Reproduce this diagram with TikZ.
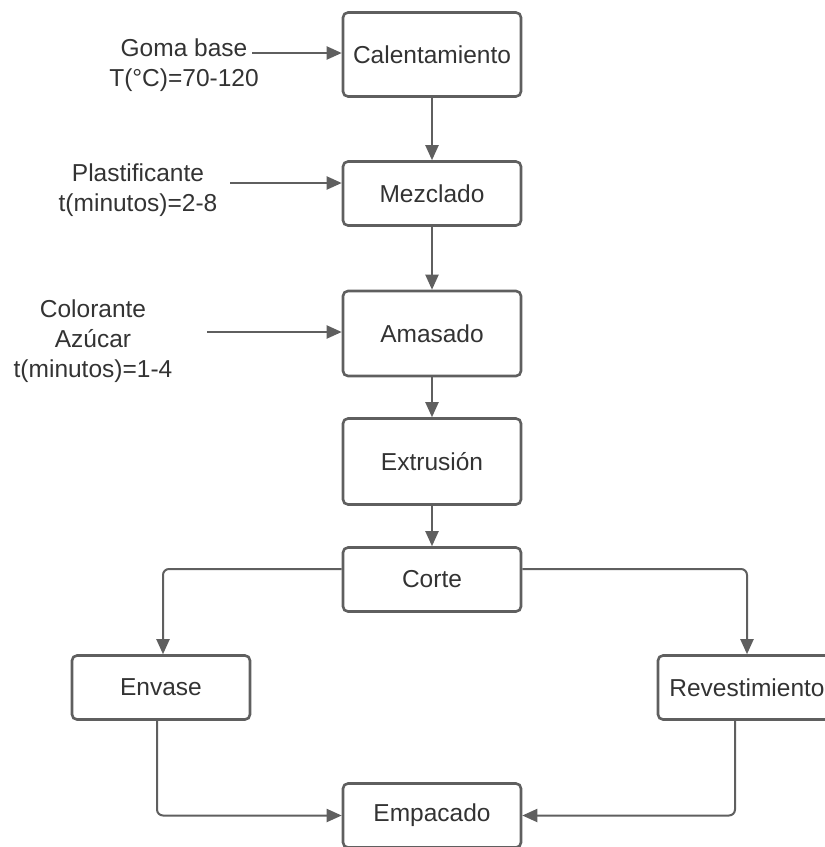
\documentclass[tikz,border=0pt]{standalone}
\usepackage{fontspec}
\setmainfont{Liberation Sans}
\usetikzlibrary{arrows.meta}
\definecolor{linea}{HTML}{5F5F5F}
\definecolor{texto}{HTML}{333333}
\tikzset{
	paso/.style={draw=linea, line width=2.6pt, rounded corners=5pt,
		minimum width=178pt, minimum height=64pt, text=texto, inner sep=0pt},
	flecha/.style={draw=linea, line width=2pt, rounded corners=6pt,
		-{Triangle[length=15pt,width=13pt]}},
	entrada/.style={text=texto, align=center}
}
\begin{document}
\begin{tikzpicture}[x=1pt, y=-1pt, font=\fontsize{24.5}{30}\selectfont]
	\useasboundingbox (0,0) rectangle (825,847);
	% Pasos del proceso
	\node[paso, minimum height=84pt] (calent) at (432, 54.5) {Calentamiento};
	\node[paso] (mezcl) at (432, 193.5) {Mezclado};
	\node[paso, minimum height=85pt] (amas) at (432, 333.5) {Amasado};
	\node[paso, minimum height=86pt] (extr) at (432, 461.5) {Extrusión};
	\node[paso] (corte) at (432, 579.5) {Corte};
	\node[paso] (envase) at (161, 687.5) {Envase};
	\node[paso] (revest) at (747, 687.5) {Revestimiento};
	\node[paso] (empac) at (432, 815.5) {Empacado};
	% Entradas
	\node[entrada] (goma) at (184, 65) {Goma base\\T(°C)=70-120};
	\node[entrada] (plast) at (138, 190.5) {Plastificante\\t(minutos)=2-8};
	\node[entrada] (color) at (93, 341) {Colorante\\Azúcar\\t(minutos)=1-4};
	\coordinate (gomaIn) at (252, 53);
	\coordinate (plastIn) at (230, 183);
	\coordinate (colorIn) at (207, 332);
	\draw[flecha] (gomaIn) -- (gomaIn -| calent.west);
	\draw[flecha] (plastIn) -- (plastIn -| mezcl.west);
	\draw[flecha] (colorIn) -- (colorIn -| amas.west);
	% Flujo principal
	\draw[flecha] (calent) -- (mezcl);
	\draw[flecha] (mezcl) -- (amas);
	\draw[flecha] (amas) -- (extr);
	\draw[flecha] (extr) -- (corte);
	% Ramas
	\draw[flecha] ([yshift=10.5pt]corte.west) -| ([xshift=2pt]envase.north);
	\draw[flecha] ([yshift=10.5pt]corte.east) -| (revest.north);
	\draw[flecha] ([xshift=-4pt]envase.south) |- (empac.west);
	\draw[flecha] ([xshift=-12pt]revest.south) |- (empac.east);
\end{tikzpicture}
\end{document}
